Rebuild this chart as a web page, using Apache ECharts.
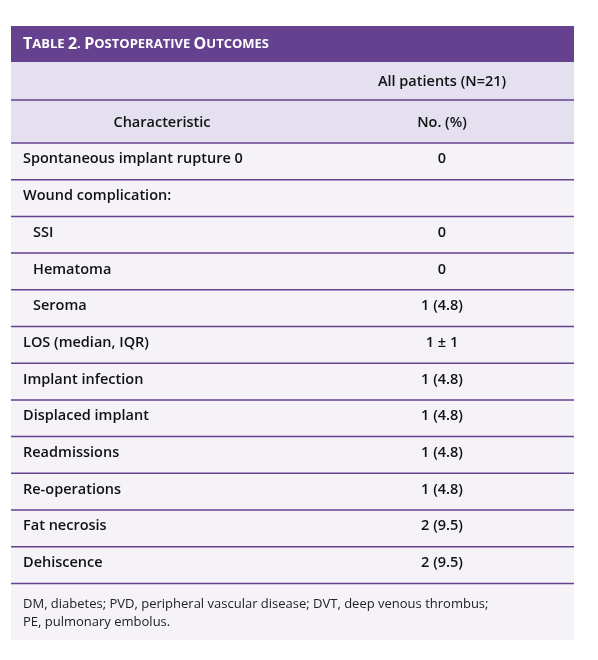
<!DOCTYPE html>
<html><head><meta charset="utf-8">
<script src="https://cdn.jsdelivr.net/npm/echarts@6/dist/echarts.min.js"></script>
<style>html,body{margin:0;padding:0;background:#fff}#c{width:598px;height:660px}</style>
</head><body><div id="c"></div>
<script>
var title = "Table 2. Postoperative Outcomes";
var colHeader1 = "All patients (N=21)";
var colHeader2 = ["Characteristic", "No. (%)"];
var characteristics = ["Spontaneous implant rupture 0","Wound complication:","SSI","Hematoma","Seroma","LOS (median, IQR)","Implant infection","Displaced implant","Readmissions","Re-operations","Fat necrosis","Dehiscence"];
var indented = [false,false,true,true,true,false,false,false,false,false,false,false];
var values = ["0","","0","0","1 (4.8)","1 ± 1","1 (4.8)","1 (4.8)","1 (4.8)","1 (4.8)","2 (9.5)","2 (9.5)"];
var footnote = ["DM, diabetes; PVD, peripheral vascular disease; DVT, deep venous thrombus;","PE, pulmonary embolus."];

var L=11, R=574, W=R-L, purple="#65418f", FONT="'Open Sans', sans-serif";
var g=[];
function rect(x,y,w,h,c){g.push({type:'rect',shape:{x:x,y:y,width:w,height:h},style:{fill:c},silent:true});}
function line(y){g.push({type:'line',shape:{x1:L,y1:y,x2:R,y2:y},style:{stroke:purple,lineWidth:1.5},silent:true});}
function text(t,x,y,align,size,weight,color){g.push({type:'text',x:x,y:y,style:{text:t,align:align,verticalAlign:'middle',font:(weight||600)+' '+(size||14)+'px '+FONT,fill:color||'#111'},silent:true});}
rect(L,26,W,36,purple);
rect(L,62,W,81,"#e5e0ef");
rect(L,143,W,497,"#f5f3f8");
var words=title.split(' ');
var tparts=words.map(function(w){return '{b|'+w[0].toUpperCase()+'}{s|'+w.slice(1).toUpperCase()+'}';}).join('{s| }');
g.push({type:'text',x:L+12,y:44,style:{text:tparts,verticalAlign:'middle',rich:{b:{font:'700 16px '+FONT,fill:'#fff'},s:{font:'700 13px '+FONT,fill:'#fff'}}},silent:true});
line(100); line(143);
text(colHeader1,442,82,'center',14.5,600);
text(colHeader2[0],162,123,'center',14.5,600);
text(colHeader2[1],442,123,'center',14.5,600);
var rowTop=143,rowH=36.7;
characteristics.forEach(function(c,i){
  var cy=rowTop+rowH*i+rowH/2-2;
  text(c,indented[i]?33:23,cy,'left',14.5,600);
  if(values[i]) text(values[i],442,cy,'center',14.5,600);
  line(rowTop+rowH*(i+1));
});
text(footnote[0],23,604,'left',13,400,'#222');
text(footnote[1],23,622,'left',13,400,'#222');
var chart=echarts.init(document.getElementById('c'));
chart.setOption({graphic:{elements:g}});
</script></body></html>
